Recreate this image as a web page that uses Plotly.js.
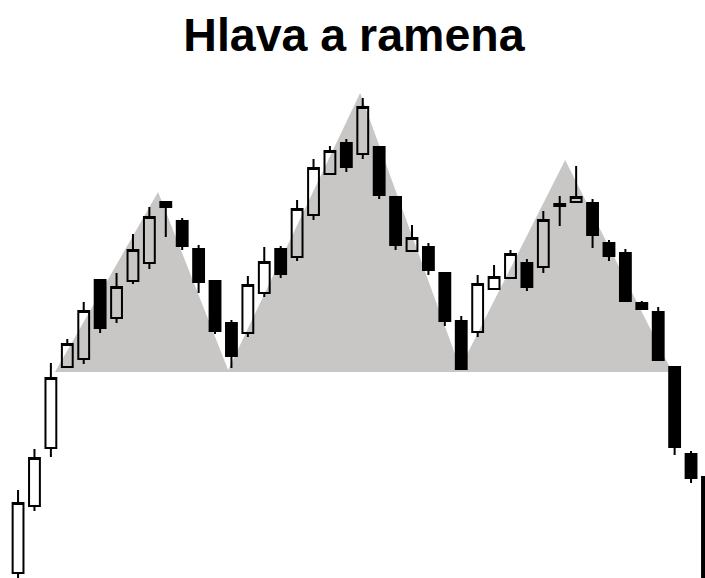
<!DOCTYPE html>
<html>
<head>
<meta charset="utf-8">
<script src="https://cdn.plot.ly/plotly-3.0.1.min.js"></script>
<style>
  html, body { margin: 0; padding: 0; background: #ffffff; }
  #chart { width: 705px; height: 578px; }
</style>
</head>
<body>
<div id="chart"></div>
<script>
// Session index (categories)
const sessions = [0,1,2,3,4,5,6,7,8,9,10,11,12,13,14,15,16,17,18,19,20,21,22,23,24,25,26,27,28,29,30,31,32,33,34,35,36,37,38,39,40,41,42];

// OHLC values (price units)
const openVals  = [27, 94,152,233,241,320,282,319,337,398,379,351,319,277,267,307,351,343,385,426,457,446,453,403,349,353,327,279,268,311,322,337,333,394,398,397,357,347,297,288,233,146,123];
const highVals  = [110,151,237,261,298,320,327,366,393,398,382,355,319,280,324,353,354,400,441,454,461,502,453,403,375,357,327,284,325,335,350,341,389,404,434,401,360,351,299,293,233,149,123];
const lowVals   = [10, 89,143,233,236,267,277,316,331,363,350,307,266,232,263,303,322,339,380,426,428,441,401,350,349,325,274,231,263,311,322,309,327,374,398,352,339,299,291,240,145,117,-30];
const closeVals = [97,142,222,256,289,272,313,350,383,393,354,318,269,244,315,338,326,391,432,449,433,493,405,355,362,330,279,231,316,323,346,313,380,396,403,365,344,299,291,240,153,122,-20];

// Shaded head-and-shoulders outline (session, price)
const patternX = [2.25, 8.53, 12.8, 20.84, 26.93, 33.33, 39.85];
const patternY = [228, 408, 230, 507, 232, 440, 228];

const titleText = 'Hlava a ramena';

// Build an SVG path in data coordinates from the outline arrays
let patternPath = '';
for (let i = 0; i < patternX.length; i++) {
  patternPath += (i === 0 ? 'M ' : ' L ') + patternX[i] + ',' + patternY[i];
}
patternPath += ' Z';

const traces = [
  {
    type: 'candlestick',
    x: sessions,
    open: openVals,
    high: highVals,
    low: lowVals,
    close: closeVals,
    increasing: { line: { color: '#000000', width: 2 }, fillcolor: 'rgba(0,0,0,0)' },
    decreasing: { line: { color: '#000000', width: 2 }, fillcolor: '#000000' },
    whiskerwidth: 0,
    hoverinfo: 'skip',
    showlegend: false
  }
];

const layout = {
  width: 705,
  height: 578,
  margin: { l: 0, r: 0, t: 0, b: 0 },
  paper_bgcolor: '#ffffff',
  plot_bgcolor: '#ffffff',
  showlegend: false,
  boxgap: 0.34,
  boxgroupgap: 0,
  title: {
    text: '<b>' + titleText + '</b>',
    font: { family: 'Liberation Sans, Arial, sans-serif', size: 46.5, color: '#000000' },
    x: 0.502,
    xanchor: 'center',
    y: 1 - 35 / 578,
    yanchor: 'middle',
    yref: 'container'
  },
  shapes: [
    {
      type: 'path',
      xref: 'x',
      yref: 'y',
      path: patternPath,
      fillcolor: '#c9c6c6',
      line: { width: 0 },
      layer: 'below'
    }
  ],
  xaxis: {
    type: 'linear',
    range: [-1.1, 41.85],
    visible: false,
    showgrid: false,
    zeroline: false,
    rangeslider: { visible: false },
    fixedrange: true
  },
  yaxis: {
    range: [22, 600],
    visible: false,
    showgrid: false,
    zeroline: false,
    fixedrange: true
  }
};

Plotly.newPlot('chart', traces, layout, { staticPlot: true, displayModeBar: false });
</script>
</body>
</html>
